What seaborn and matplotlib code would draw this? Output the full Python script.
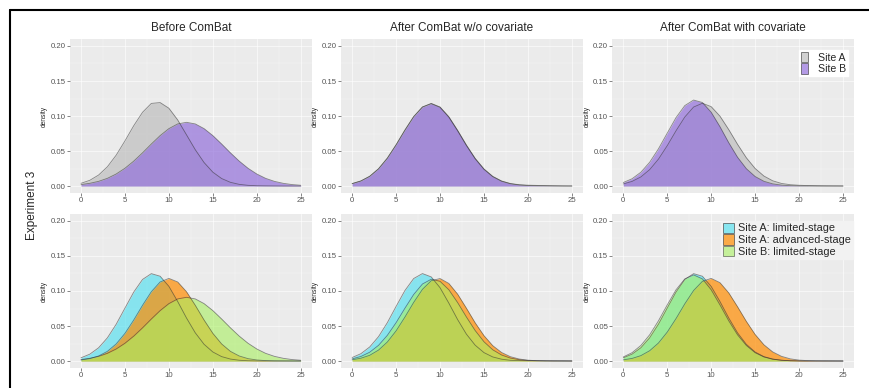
import matplotlib
matplotlib.use("Agg")
import matplotlib.pyplot as plt
from matplotlib.lines import Line2D
from matplotlib.patches import Patch
import seaborn as sns

# density values at x = 0..25
x_vals = list(range(26))

before_a = [0.0039, 0.0082, 0.0157, 0.0275, 0.0441, 0.0645, 0.0862, 0.1053, 0.1180, 0.1192, 0.1111, 0.0944, 0.0732,
            0.0519, 0.0336, 0.0198, 0.0107, 0.0053, 0.0024, 0.0010, 0.0004, 0.0002, 0.0001, 0, 0, 0]
before_b = [0.0021, 0.0039, 0.0067, 0.0110, 0.0172, 0.0254, 0.0356, 0.0474, 0.0600, 0.0720, 0.0820, 0.0887, 0.0910,
            0.0887, 0.0820, 0.0720, 0.0600, 0.0474, 0.0356, 0.0254, 0.0172, 0.0110, 0.0067, 0.0039, 0.0021, 0.0011]
nocov_a = [0.0034, 0.0072, 0.0138, 0.0244, 0.0395, 0.0586, 0.0796, 0.0990, 0.1129, 0.1180, 0.1129, 0.0990, 0.0796,
           0.0586, 0.0395, 0.0244, 0.0138, 0.0072, 0.0036, 0.0019, 0.0012, 0.0009, 0.0006, 0.0004, 0.0002, 0.0001]
nocov_b = [0.0035, 0.0073, 0.0140, 0.0247, 0.0399, 0.0590, 0.0799, 0.0991, 0.1128, 0.1176, 0.1124, 0.0984, 0.0789,
           0.0579, 0.0389, 0.0239, 0.0134, 0.0069, 0.0033, 0.0015, 0.0007, 0.0004, 0.0002, 0.0001, 0, 0]
cov_a = [0.0030, 0.0066, 0.0130, 0.0234, 0.0384, 0.0576, 0.0789, 0.0986, 0.1128, 0.1182, 0.1134, 0.0998, 0.0806,
         0.0596, 0.0404, 0.0251, 0.0143, 0.0075, 0.0037, 0.0019, 0.0011, 0.0007, 0.0005, 0.0003, 0.0002, 0.0001]
cov_b = [0.0050, 0.0104, 0.0197, 0.0339, 0.0531, 0.0755, 0.0977, 0.1149, 0.1228, 0.1193, 0.1054, 0.0847, 0.0618,
         0.0411, 0.0248, 0.0136, 0.0068, 0.0031, 0.0013, 0.0005, 0.0002, 0.0001, 0, 0, 0, 0]

before_al = [0.0046, 0.0098, 0.0189, 0.0331, 0.0525, 0.0756, 0.0985, 0.1165, 0.1248, 0.1211, 0.1066, 0.0850, 0.0615,
             0.0403, 0.0239, 0.0129, 0.0063, 0.0028, 0.0011, 0.0004, 0.0001, 0, 0, 0, 0, 0]
before_aa = [0.0015, 0.0034, 0.0072, 0.0138, 0.0244, 0.0395, 0.0586, 0.0796, 0.0990, 0.1129, 0.1180, 0.1129, 0.0990,
             0.0796, 0.0586, 0.0395, 0.0244, 0.0138, 0.0072, 0.0034, 0.0015, 0.0006, 0.0002, 0.0001, 0, 0]
before_bl = [0.0021, 0.0039, 0.0067, 0.0110, 0.0172, 0.0254, 0.0356, 0.0474, 0.0600, 0.0720, 0.0820, 0.0887, 0.0910,
             0.0887, 0.0820, 0.0720, 0.0600, 0.0474, 0.0356, 0.0254, 0.0172, 0.0110, 0.0067, 0.0039, 0.0021, 0.0011]
nocov_al = [0.0050, 0.0105, 0.0201, 0.0348, 0.0547, 0.0780, 0.1006, 0.1178, 0.1249, 0.1201, 0.1047, 0.0827, 0.0592,
            0.0384, 0.0226, 0.0120, 0.0058, 0.0026, 0.0010, 0.0006, 0.0004, 0.0003, 0.0002, 0.0001, 0.0001, 0]
nocov_aa = [0.0018, 0.0040, 0.0082, 0.0156, 0.0271, 0.0431, 0.0627, 0.0837, 0.1024, 0.1147, 0.1178, 0.1108, 0.0955,
            0.0754, 0.0545, 0.0362, 0.0219, 0.0122, 0.0062, 0.0029, 0.0012, 0.0005, 0.0003, 0.0002, 0.0001, 0.0001]
nocov_bl = [0.0031, 0.0065, 0.0126, 0.0224, 0.0366, 0.0548, 0.0753, 0.0950, 0.1100, 0.1168, 0.1138, 0.1018, 0.0835,
            0.0629, 0.0435, 0.0275, 0.0160, 0.0086, 0.0042, 0.0019, 0.0008, 0.0004, 0.0002, 0.0001, 0.0001, 0]
cov_al = [0.0046, 0.0098, 0.0189, 0.0331, 0.0525, 0.0756, 0.0985, 0.1165, 0.1248, 0.1211, 0.1066, 0.0850, 0.0615,
          0.0403, 0.0239, 0.0129, 0.0063, 0.0028, 0.0011, 0.0004, 0.0001, 0, 0, 0, 0, 0]
cov_aa = [0.0017, 0.0037, 0.0077, 0.0147, 0.0257, 0.0413, 0.0606, 0.0817, 0.1007, 0.1138, 0.1180, 0.1119, 0.0973,
          0.0775, 0.0566, 0.0379, 0.0232, 0.0130, 0.0067, 0.0031, 0.0013, 0.0006, 0.0003, 0.0002, 0.0001, 0]
cov_bl = [0.0058, 0.0119, 0.0222, 0.0374, 0.0574, 0.0801, 0.1017, 0.1173, 0.1230, 0.1173, 0.1017, 0.0801, 0.0574,
          0.0374, 0.0222, 0.0119, 0.0058, 0.0026, 0.0011, 0.0004, 0.0001, 0, 0, 0, 0, 0]

col_titles = ["Before ComBat", "After ComBat w/o covariate", "After ComBat with covariate"]
top_labels = ["Site A", "Site B"]
bottom_labels = ["Site A: limited-stage", "Site A: advanced-stage", "Site B: limited-stage"]
top_series = [[before_a, before_b], [nocov_a, nocov_b], [cov_a, cov_b]]
bottom_series = [[before_al, before_aa, before_bl], [nocov_al, nocov_aa, nocov_bl], [cov_al, cov_aa, cov_bl]]

top_colors = [("#BEBEBE", 0.7), ("#9370DB", 0.7)]
bottom_colors = [("#5CE1F0", 0.7), ("#FF8C00", 0.7), ("#A8F060", 0.6)]

sns.set_style("darkgrid", {"axes.facecolor": "#EBEBEB", "grid.color": "white"})
plt.rcParams["font.family"] = ["Liberation Sans", "DejaVu Sans"]

fig, axes = plt.subplots(2, 3, figsize=(8.69, 3.88), dpi=100)
fig.subplots_adjust(left=0.0806, right=0.9827, top=0.8995, bottom=0.0515, wspace=0.122, hspace=0.136)


def draw_panel(ax, series, colors):
    for vals, (c, a) in zip(series, colors):
        ax.fill_between(x_vals, vals, color=c, alpha=a, lw=0)
        sns.lineplot(x=x_vals, y=vals, ax=ax, color="#303030", lw=0.6, alpha=0.55)
    ax.set_xlim(-1.25, 26.25)
    ax.set_ylim(-0.01, 0.21)
    ax.set_xticks([0, 5, 10, 15, 20, 25])
    ax.set_yticks([0, 0.05, 0.10, 0.15, 0.20])
    ax.set_yticklabels(["0.00", "0.05", "0.10", "0.15", "0.20"])
    ax.set_xticks([2.5, 7.5, 12.5, 17.5, 22.5], minor=True)
    ax.set_yticks([0.025, 0.075, 0.125, 0.175], minor=True)
    ax.grid(which="major", color="white", lw=0.6, alpha=0.7)
    ax.grid(which="minor", color="white", lw=0.35, alpha=0.6)
    ax.tick_params(which="major", labelsize=5.6, labelcolor="#555555", color="#555555",
                   length=2, width=0.5, pad=1, left=True, bottom=True)
    ax.tick_params(which="minor", length=0)
    ax.set_xlabel("")
    ax.set_ylabel("density", fontsize=4.8, labelpad=2)
    for s in ax.spines.values():
        s.set_visible(False)


for j in range(3):
    draw_panel(axes[0, j], top_series[j], top_colors)
    draw_panel(axes[1, j], bottom_series[j], bottom_colors)
    axes[0, j].set_title(col_titles[j], fontsize=8.5, pad=6)

top_handles = [Patch(facecolor=c, alpha=a, edgecolor="#333333", lw=0.6) for c, a in top_colors]
axes[0, 2].legend(top_handles, top_labels, loc="upper right", bbox_to_anchor=(0.975, 0.93),
                  fontsize=7.6, frameon=True, facecolor="white", edgecolor="white", framealpha=1,
                  handlelength=0.65, handleheight=1.15, labelspacing=0.05, handletextpad=0.9,
                  borderpad=0.2, borderaxespad=0, fancybox=False)

bottom_handles = [Patch(facecolor=c, alpha=a, edgecolor="#333333", lw=0.6) for c, a in bottom_colors]
axes[1, 2].legend(bottom_handles, bottom_labels, loc="upper right", bbox_to_anchor=(0.995, 0.955),
                  fontsize=7.8, frameon=True, facecolor="#F2F2F2", edgecolor="#F2F2F2", framealpha=1,
                  handlelength=1.1, handleheight=1.1, labelspacing=0.08, handletextpad=0.35,
                  borderpad=0.15, borderaxespad=0, fancybox=False)

fig.text(32 / 869, 1 - 205 / 388, "Experiment 3", rotation=90, fontsize=8.5, ha="center", va="center")

# black frame on top and left
fig.add_artist(Line2D([10 / 869, 1], [1 - 10 / 388, 1 - 10 / 388], transform=fig.transFigure, color="black", lw=1.5))
fig.add_artist(Line2D([10 / 869, 10 / 869], [0, 1 - 10 / 388], transform=fig.transFigure, color="black", lw=1.5))

fig.savefig("out.png", dpi=100)
